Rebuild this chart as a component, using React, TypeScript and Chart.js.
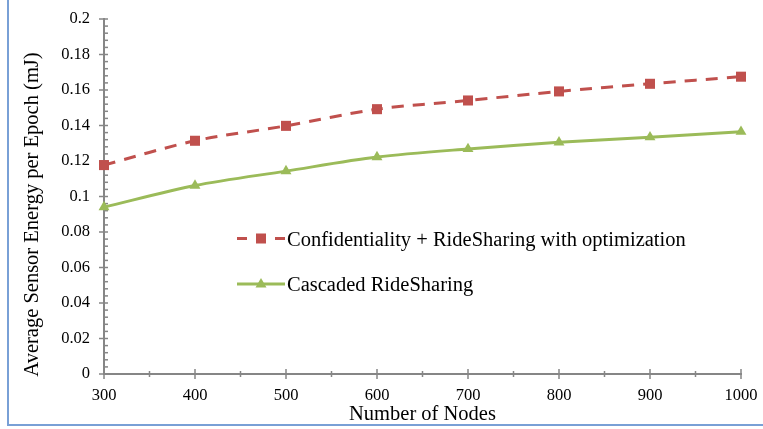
import { useEffect, useRef } from 'react';
import { Chart, registerables } from 'chart.js';

Chart.register(...registerables);

const nodes = [300, 400, 500, 600, 700, 800, 900, 1000];
const confidentialityEnergy = [0.1177, 0.1314, 0.1398, 0.1492, 0.1541, 0.1592, 0.1635, 0.1675];
const cascadedEnergy = [0.094, 0.1062, 0.1143, 0.1222, 0.1268, 0.1305, 0.1334, 0.1365];
const xTickLabels = ['300', '400', '500', '600', '700', '800', '900', '1000'];
const yTickLabels = ['0', '0.02', '0.04', '0.06', '0.08', '0.1', '0.12', '0.14', '0.16', '0.18', '0.2'];
const seriesNames = ['Confidentiality + RideSharing with optimization', 'Cascaded RideSharing'];
const xTitle = 'Number of Nodes';
const yTitle = 'Average Sensor Energy per Epoch (mJ)';

const RED = '#c0504d';
const GREEN = '#9bbb59';
const AXIS = '#868686';
const FRAME = '#79a0d6';
const SERIF = '"Liberation Serif", "Times New Roman", serif';

const decorPlugin = {
  id: 'decor',
  beforeDatasetsDraw(chart: any) {
    const { ctx, chartArea: ca, scales } = chart;
    const xs = scales.x;
    const ys = scales.y;
    ctx.save();
    ctx.fillStyle = FRAME;
    ctx.fillRect(7, 0, 2, 426);
    ctx.fillRect(7, 424, 763, 2);

    ctx.strokeStyle = AXIS;
    ctx.lineWidth = 2;
    ctx.beginPath();
    ctx.moveTo(ca.left, ca.top - 1);
    ctx.lineTo(ca.left, ca.bottom);
    ctx.lineTo(ca.right + 1, ca.bottom);
    ctx.stroke();

    ctx.lineWidth = 1.5;
    for (let i = 0; i <= 50; i++) {
      const v = i * 0.004;
      const y = ys.getPixelForValue(v);
      ctx.beginPath();
      if (i % 5 === 0) {
        ctx.moveTo(ca.left - 5, y);
        ctx.lineTo(ca.left + 4, y);
      } else {
        ctx.moveTo(ca.left, y);
        ctx.lineTo(ca.left + 4, y);
      }
      ctx.stroke();
    }
    for (let v = 300; v <= 1000; v += 50) {
      const x = xs.getPixelForValue(v);
      ctx.beginPath();
      if (v % 100 === 0) {
        ctx.moveTo(x, ca.bottom - 5);
        ctx.lineTo(x, ca.bottom + 5);
      } else {
        ctx.moveTo(x, ca.bottom - 3);
        ctx.lineTo(x, ca.bottom + 3);
      }
      ctx.stroke();
    }
    ctx.restore();
  },
  afterDraw(chart: any) {
    const { ctx, chartArea: ca } = chart;
    ctx.save();
    ctx.fillStyle = '#000';
    ctx.font = `20.5px ${SERIF}`;
    ctx.textAlign = 'center';
    ctx.textBaseline = 'alphabetic';
    ctx.fillText(xTitle, (ca.left + ca.right) / 2, 420);
    ctx.save();
    ctx.translate(37.5, 214.5);
    ctx.rotate(-Math.PI / 2);
    ctx.fillText(yTitle, 0, 0);
    ctx.restore();

    const lx0 = 237;
    const lx1 = 285;
    const mx = 261;
    const y1 = 238.5;
    const y2 = 284;
    ctx.lineWidth = 3;
    ctx.strokeStyle = RED;
    ctx.setLineDash([10, 9]);
    ctx.beginPath();
    ctx.moveTo(lx0, y1);
    ctx.lineTo(lx1, y1);
    ctx.stroke();
    ctx.setLineDash([]);
    ctx.fillStyle = RED;
    ctx.fillRect(mx - 5, y1 - 5, 10, 10);

    ctx.strokeStyle = GREEN;
    ctx.beginPath();
    ctx.moveTo(lx0, y2);
    ctx.lineTo(lx1, y2);
    ctx.stroke();
    ctx.fillStyle = GREEN;
    ctx.beginPath();
    ctx.moveTo(mx, y2 - 6);
    ctx.lineTo(mx + 5.5, y2 + 3.5);
    ctx.lineTo(mx - 5.5, y2 + 3.5);
    ctx.closePath();
    ctx.fill();

    ctx.fillStyle = '#000';
    ctx.textAlign = 'left';
    ctx.fillText(seriesNames[0], 287, 245.5);
    ctx.fillText(seriesNames[1], 287, 290.5);
    ctx.restore();
  },
};

export default function App() {
  const canvasRef = useRef<HTMLCanvasElement | null>(null);

  useEffect(() => {
    const canvas = canvasRef.current;
    if (!canvas) return;
    const chart = new Chart(canvas, {
      type: 'line',
      data: {
        datasets: [
          {
            label: seriesNames[0],
            data: nodes.map((n, i) => ({ x: n, y: confidentialityEnergy[i] })),
            borderColor: RED,
            backgroundColor: RED,
            borderWidth: 3,
            borderDash: [12, 9],
            tension: 0.3,
            pointStyle: 'rect',
            pointRadius: 7.1,
            pointBorderWidth: 0,
            pointBackgroundColor: RED,
            clip: false,
          } as any,
          {
            label: seriesNames[1],
            data: nodes.map((n, i) => ({ x: n, y: cascadedEnergy[i] })),
            borderColor: GREEN,
            backgroundColor: GREEN,
            borderWidth: 3,
            tension: 0.3,
            pointStyle: 'triangle',
            pointRadius: 6.3,
            pointBorderWidth: 0,
            pointBackgroundColor: GREEN,
            clip: false,
          } as any,
        ],
      },
      options: {
        animation: false,
        responsive: false,
        events: [],
        layout: { padding: { top: 19, right: 22, left: 0, bottom: 0 } },
        plugins: {
          legend: { display: false },
          tooltip: { enabled: false },
          title: { display: false },
        },
        scales: {
          x: {
            type: 'linear',
            min: 300,
            max: 1000,
            grid: { display: false, drawTicks: false },
            border: { display: false },
            afterBuildTicks: (scale: any) => {
              scale.ticks = nodes.map((v) => ({ value: v }));
            },
            afterFit: (scale: any) => {
              scale.height = 55;
              scale.paddingLeft = 0;
              scale.paddingRight = 0;
            },
            ticks: {
              color: '#000',
              font: { family: SERIF, size: 16.5 },
              padding: 12,
              maxRotation: 0,
              callback: (_v: any, i: number) => xTickLabels[i],
            },
          },
          y: {
            type: 'linear',
            min: 0,
            max: 0.2,
            grid: { display: false, drawTicks: false },
            border: { display: false },
            afterBuildTicks: (scale: any) => {
              scale.ticks = yTickLabels.map((t) => ({ value: parseFloat(t) }));
            },
            afterFit: (scale: any) => {
              scale.width = 104;
              scale.paddingTop = 0;
              scale.paddingBottom = 0;
            },
            ticks: {
              color: '#000',
              font: { family: SERIF, size: 16.5 },
              padding: 14,
              callback: (_v: any, i: number) => yTickLabels[i],
            },
          },
        },
      },
      plugins: [decorPlugin],
    });
    return () => chart.destroy();
  }, []);

  return (
    <div style={{ position: 'absolute', left: 0, top: 0, width: 763, height: 429, background: '#fff' }}>
      <canvas ref={canvasRef} width={763} height={429} style={{ display: 'block', width: 763, height: 429 }} />
    </div>
  );
}
